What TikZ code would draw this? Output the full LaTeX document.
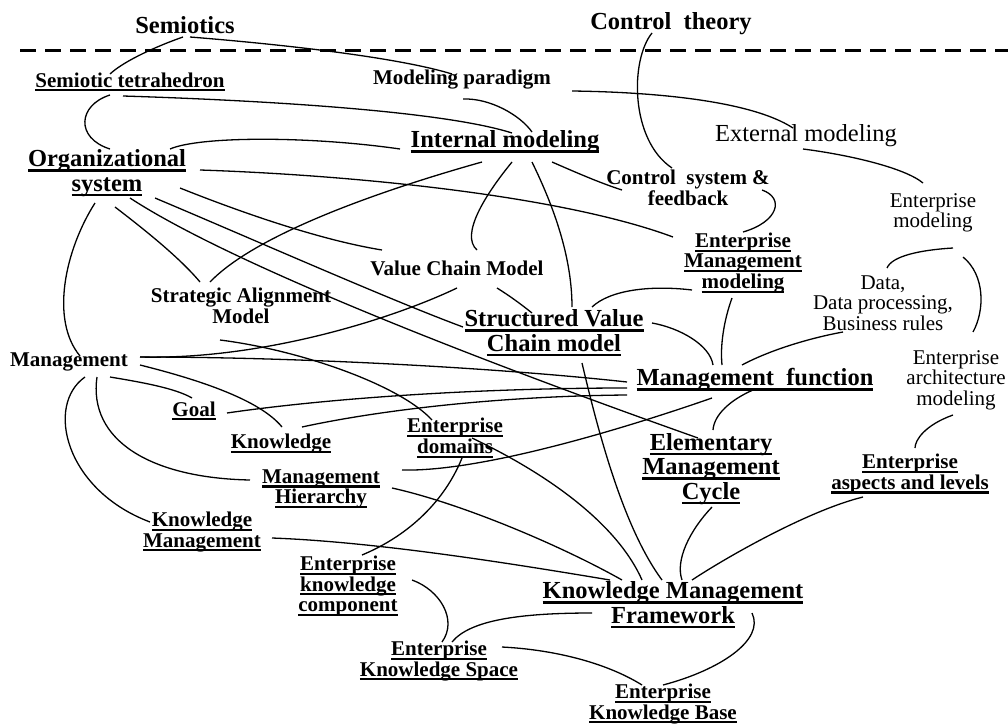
\documentclass[tikz,border=0pt]{standalone}
\usepackage{fontspec}
\setmainfont{Liberation Serif}
\newcommand\ulx[1]{\setbox0\hbox{#1}\leavevmode\rlap{\rule[-0.2em]{\wd0}{0.1em}}\box0}
\tikzset{
  lbl/.style={inner sep=0pt, align=center, font=\fontsize{21}{20.5}\selectfont\bfseries},
  lblB/.style={inner sep=0pt, align=center, font=\fontsize{24.5}{24.5}\selectfont\bfseries},
  reg/.style={inner sep=0pt, align=center, font=\fontsize{21}{20.5}\selectfont},
  regB/.style={inner sep=0pt, align=center, font=\fontsize{24.5}{24.5}\selectfont},
  conn/.style={line width=1.3pt},
  sep/.style={line width=3pt, dash pattern=on 16pt off 9pt}
}
\begin{document}
\begin{tikzpicture}[x=1pt,y=-1pt]
\useasboundingbox[fill=white] (0,0) rectangle (1008,723);
% nodes
\node[lblB] (sem) at (185,25) {Semiotics};
\node[lblB] (ctl) at (671,24) {Control\ \ theory};
\draw[sep] (20,50) -- (1008,50);
\node[lbl] (semtet) at (130,82) {\ulx{Semiotic tetrahedron}};
\node[lbl] (modpar) at (462,80) {Modeling paradigm};
\node[regB] (extmod) at (806,136) {External modeling};
\node[lblB] (intmod) at (505,142) {\ulx{Internal modeling}};
\node[lblB] (orgsys) at (107,173) {\ulx{Organizational}\\\ulx{system}};
\node[lbl] (csf) at (688,188) {Control\ \ system \&\\feedback};
\node[reg] (entmod) at (933,213) {Enterprise\\modeling};
\node[lbl] (emm) at (743,263) {\ulx{Enterprise}\\\ulx{Management}\\\ulx{modeling}};
\node[lbl] (vcm) at (457,268) {Value Chain Model};
\node[lbl] (sam) at (241,306) {Strategic Alignment\\Model};
\node[reg] (data) at (883,303) {Data,\\Data processing,\\Business rules};
\node[lblB] (svc) at (554,333) {\ulx{Structured Value}\\\ulx{Chain model}};
\node[lbl] (mgmt) at (69,362) {Management};
\node[lblB] (mf) at (755,380) {\ulx{Management\ \ function}};
\node[reg] (eam) at (956,380) {Enterprise\\architecture\\modeling};
\node[lbl] (goal) at (194,411) {\ulx{Goal}};
\node[lbl] (know) at (281,444) {\ulx{Knowledge}};
\node[lbl] (edom) at (455,438) {\ulx{Enterprise}\\\ulx{domains}};
\node[lblB] (emc) at (711,469) {\ulx{Elementary}\\\ulx{Management}\\\ulx{Cycle}};
\node[lbl] (eal) at (910,474) {\ulx{Enterprise}\\\ulx{aspects and levels}};
\node[lbl] (mh) at (321,489) {\ulx{Management}\\\ulx{Hierarchy}};
\node[lbl] (km) at (202,532) {\ulx{Knowledge}\\\ulx{Management}};
\node[lbl] (ekc) at (348,586) {\ulx{Enterprise}\\\ulx{knowledge}\\\ulx{component}};
\node[lblB] (kmf) at (673,605) {\ulx{Knowledge Management}\\\ulx{Framework}};
\node[lbl] (eks) at (439,661) {\ulx{Enterprise}\\\ulx{Knowledge Space}};
\node[lbl] (ekb) at (663,704) {\ulx{Enterprise}\\\ulx{Knowledge Base}};
% connectors
\draw[conn] ([shift={(-2,12)}]sem.center) .. controls (160,45) and (125,60) .. ([shift={(-20,-8)}]semtet.center);
\draw[conn] ([shift={(5,12)}]sem.center) .. controls (290,45) and (400,58) .. ([shift={(-10,-6)}]modpar.center);
\draw[conn] ([shift={(-7,14)}]semtet.center) .. controls (250,100) and (440,110) .. ([shift={(7,-9)}]intmod.center);
\draw[conn] ([shift={(-20,13)}]semtet.center) .. controls (78,105) and (75,138) .. ([shift={(3,-24)}]orgsys.center);
\draw[conn] ([shift={(63,-24)}]orgsys.center) .. controls (200,136) and (310,136) .. ([shift={(-105,7)}]intmod.center);
\draw[conn] ([shift={(93,-3)}]orgsys.center) .. controls (350,175) and (560,195) .. ([shift={(-70,-26)}]emm.center);
\draw[conn] ([shift={(73,15)}]orgsys.center) .. controls (240,212) and (320,240) .. ([shift={(-75,-18)}]vcm.center);
\draw[conn] ([shift={(48,25)}]orgsys.center) .. controls (250,238) and (390,300) .. ([shift={(-91,-6)}]svc.center);
\draw[conn] ([shift={(23,25)}]orgsys.center) .. controls (240,270) and (520,375) .. ([shift={(-13,-31)}]emc.center);
\draw[conn] ([shift={(8,34)}]orgsys.center) .. controls (145,230) and (180,258) .. ([shift={(-41,-24)}]sam.center);
\draw[conn] ([shift={(-12,30)}]orgsys.center) .. controls (65,250) and (50,320) .. ([shift={(11,-6)}]mgmt.center);
\draw[conn] ([shift={(-23,20)}]intmod.center) .. controls (400,185) and (260,230) .. ([shift={(-31,-24)}]sam.center);
\draw[conn] ([shift={(7,20)}]intmod.center) .. controls (485,195) and (460,235) .. ([shift={(20,-18)}]vcm.center);
\draw[conn] ([shift={(27,20)}]intmod.center) .. controls (548,195) and (572,250) .. ([shift={(18,-26)}]svc.center);
\draw[conn] ([shift={(47,20)}]intmod.center) .. controls (575,172) and (600,183) .. ([shift={(-66,2)}]csf.center);
\draw[conn] ([shift={(1,19)}]modpar.center) .. controls (490,98) and (520,115) .. ([shift={(27,-10)}]intmod.center);
\draw[conn] ([shift={(110,11)}]modpar.center) .. controls (650,92) and (750,100) .. ([shift={(-13,-8)}]extmod.center);
\draw[conn] ([shift={(-19,9)}]ctl.center) .. controls (630,60) and (630,140) .. ([shift={(-16,-20)}]csf.center);
\draw[conn] ([shift={(-3,13)}]extmod.center) .. controls (850,155) and (905,168) .. ([shift={(-10,-30)}]entmod.center);
\draw[conn] ([shift={(74,2)}]csf.center) .. controls (785,198) and (778,222) .. ([shift={(0,-31)}]emm.center);
\draw[conn] ([shift={(20,35)}]entmod.center) .. controls (920,250) and (892,256) .. ([shift={(4,-35)}]data.center);
\draw[conn] ([shift={(30,44)}]entmod.center) .. controls (985,275) and (985,310) .. ([shift={(17,-48)}]eam.center);
\draw[conn] ([shift={(-40,29)}]data.center) .. controls (810,338) and (770,350) .. ([shift={(-13,-15)}]mf.center);
\draw[conn] ([shift={(-11,35)}]emm.center) .. controls (724,320) and (720,345) .. ([shift={(-33,-15)}]mf.center);
\draw[conn] ([shift={(-51,27)}]emm.center) .. controls (650,285) and (610,290) .. ([shift={(38,-26)}]svc.center);
\draw[conn] ([shift={(98,-10)}]svc.center) .. controls (680,328) and (710,345) .. ([shift={(-42,-15)}]mf.center);
\draw[conn] ([shift={(40,20)}]vcm.center) .. controls (510,296) and (522,305) .. ([shift={(-22,-20)}]svc.center);
\draw[conn] ([shift={(71,-5)}]mgmt.center) .. controls (260,360) and (390,320) .. ([shift={(0,20)}]vcm.center);
\draw[conn] ([shift={(71,-5)}]mgmt.center) .. controls (300,357) and (500,368) .. ([shift={(-128,2)}]mf.center);
\draw[conn] ([shift={(-21,34)}]sam.center) .. controls (300,350) and (400,385) .. ([shift={(-23,-18)}]edom.center);
\draw[conn] ([shift={(41,15)}]mgmt.center) .. controls (140,382) and (175,388) .. ([shift={(-2,-13)}]goal.center);
\draw[conn] ([shift={(71,3)}]mgmt.center) .. controls (200,380) and (260,400) .. ([shift={(1,-17)}]know.center);
\draw[conn] ([shift={(28,15)}]mgmt.center) .. controls (88,440) and (150,478) .. ([shift={(-71,-9)}]mh.center);
\draw[conn] ([shift={(16,15)}]mgmt.center) .. controls (45,405) and (65,490) .. ([shift={(-52,-10)}]km.center);
\draw[conn] ([shift={(33,2)}]goal.center) .. controls (330,398) and (480,388) .. ([shift={(-128,8)}]mf.center);
\draw[conn] ([shift={(21,-17)}]know.center) .. controls (380,410) and (500,396) .. ([shift={(-128,15)}]mf.center);
\draw[conn] ([shift={(-2,10)}]mf.center) .. controls (730,400) and (714,415) .. ([shift={(2,-39)}]emc.center);
\draw[conn] ([shift={(-43,18)}]mf.center) .. controls (620,430) and (480,472) .. ([shift={(81,-19)}]mh.center);
\draw[conn] ([shift={(7,20)}]edom.center) .. controls (445,500) and (410,535) .. ([shift={(14,-31)}]ekc.center);
\draw[conn] ([shift={(17,0)}]edom.center) .. controls (560,480) and (620,530) .. ([shift={(-31,-25)}]kmf.center);
\draw[conn] ([shift={(28,30)}]svc.center) .. controls (600,440) and (625,530) .. ([shift={(-11,-25)}]kmf.center);
\draw[conn] ([shift={(1,38)}]emc.center) .. controls (690,530) and (675,560) .. ([shift={(9,-25)}]kmf.center);
\draw[conn] ([shift={(-47,23)}]eal.center) .. controls (810,510) and (730,555) .. ([shift={(19,-25)}]kmf.center);
\draw[conn] ([shift={(71,-1)}]mh.center) .. controls (460,503) and (560,545) .. ([shift={(-51,-25)}]kmf.center);
\draw[conn] ([shift={(70,6)}]km.center) .. controls (380,542) and (520,565) .. ([shift={(-63,-25)}]kmf.center);
\draw[conn] ([shift={(64,-6)}]ekc.center) .. controls (440,590) and (458,620) .. ([shift={(3,-19)}]eks.center);
\draw[conn] ([shift={(13,-19)}]eks.center) .. controls (470,620) and (520,613) .. ([shift={(-81,8)}]kmf.center);
\draw[conn] ([shift={(63,-14)}]eks.center) .. controls (560,650) and (610,665) .. ([shift={(-21,-19)}]ekb.center);
\draw[conn] ([shift={(79,8)}]kmf.center) .. controls (765,640) and (720,670) .. ([shift={(0,-19)}]ekb.center);
\draw[conn] ([shift={(-3,35)}]eam.center) .. controls (925,425) and (915,440) .. ([shift={(5,-26)}]eal.center);
\end{tikzpicture}
\end{document}
